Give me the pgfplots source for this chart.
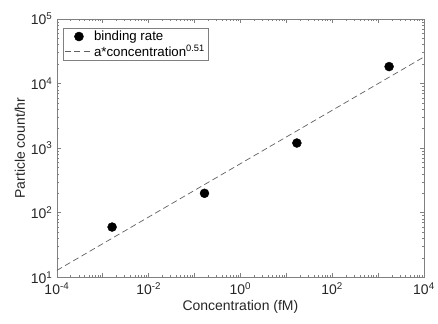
\documentclass[border=0pt]{standalone}
\usepackage{fontspec}
\setmainfont{Liberation Sans}
\usepackage{pgfplots}
\pgfplotsset{compat=1.18}
\definecolor{axgray}{gray}{0.5}
\definecolor{txt}{gray}{0.15}
\pgfplotsset{
  markleg/.style={legend image code/.code={\draw[##1] plot[mark=*] coordinates {(0.5cm,0cm)};}},
  lineleg/.style={legend image code/.code={\draw[##1] (0cm,0cm) -- (0.95cm,0cm);}},
}
\begin{document}
\begin{tikzpicture}
\begin{loglogaxis}[
 name=ax,
 scale only axis, width=368bp, height=259bp,
 xmin=1e-4, xmax=1e4, ymin=10, ymax=1e5,
 axis line style={axgray, line width=0.6bp},
 every tick/.style={axgray, line width=0.5bp},
 tick align=inside,
 major tick length=4bp, minor tick length=2bp,
 font=\fontsize{14bp}{16bp}\selectfont,
 tick label style={txt, font=\fontsize{14bp}{16bp}\selectfont},
 label style={txt, font=\fontsize{14bp}{16bp}\selectfont},
 xticklabel style={yshift=-2bp},
 yticklabel style={xshift=-1bp},
 xtick={1e-4,1e-3,1e-2,1e-1,1,10,100,1000,1e4},
 xticklabels={10\textsuperscript{-4},,10\textsuperscript{-2},,10\textsuperscript{0},,10\textsuperscript{2},,10\textsuperscript{4}},
 ytick={10,100,1000,1e4,1e5},
 yticklabels={10\textsuperscript{1},10\textsuperscript{2},10\textsuperscript{3},10\textsuperscript{4},10\textsuperscript{5}},
 xlabel={Concentration (fM)},
 ylabel={Particle count/hr},
 xlabel style={yshift=1bp},
 ylabel style={yshift=-1bp},
 legend cell align=left,
 legend style={at={(0.016,0.966)}, anchor=north west, draw=axgray, line width=0.5bp,
   text=black, font=\fontsize{13.3bp}{15bp}\selectfont, inner xsep=1.5bp, inner ysep=1bp,
   row sep=-1.5bp},
]
\addplot[only marks, mark=*, mark size=4.5bp, black, markleg]
  coordinates {(1.6e-3,60) (0.165,200) (17,1200) (1740,18300)};
\addlegendentry{binding rate}
\addplot[dash pattern=on 6bp off 3.5bp, gray!75!black, line width=0.7bp, lineleg]
  coordinates {(1e-4,12.8) (1e4,25800)};
\addlegendentry{a*concentration\textsuperscript{0.51}}
\end{loglogaxis}
\path[use as bounding box] ([xshift=-57bp,yshift=-46bp]ax.south west) rectangle ([xshift=13bp,yshift=19bp]ax.north east);
\end{tikzpicture}
\end{document}
